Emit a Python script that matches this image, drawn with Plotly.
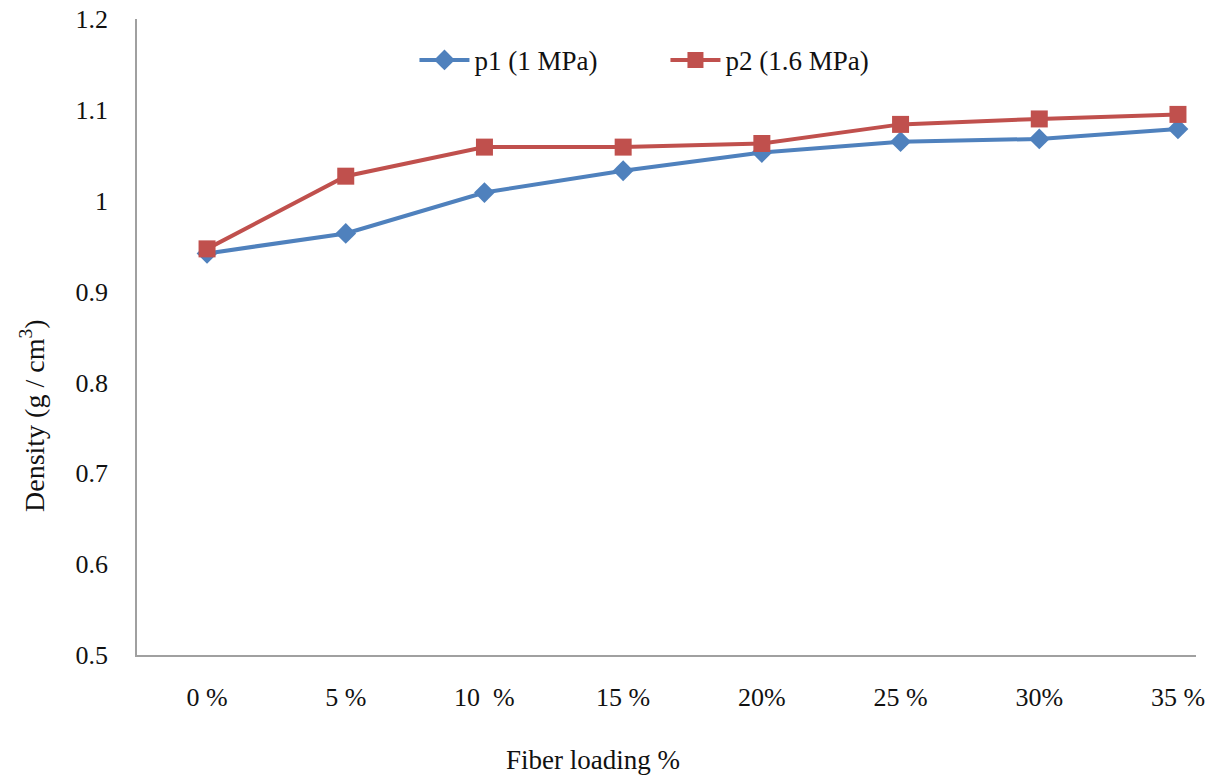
import plotly.graph_objects as go

# Fiber loading categories and measured densities (g/cm^3)
loading = ["0 %", "5 %", "10  %", "15 %", "20%", "25 %", "30%", "35 %"]
p1_density = [0.942, 0.964, 1.009, 1.033, 1.053, 1.065, 1.068, 1.079]
p2_density = [0.947, 1.027, 1.059, 1.059, 1.063, 1.084, 1.090, 1.095]
y_ticks = [0.5, 0.6, 0.7, 0.8, 0.9, 1.0, 1.1, 1.2]
y_ticktext = ["0.5", "0.6", "0.7", "0.8", "0.9", "1", "1.1", "1.2"]

BLUE = "#4F81BD"
RED = "#C0504D"
FONT = "'Liberation Serif', 'Times New Roman', 'DejaVu Serif', serif"

fig = go.Figure()
fig.add_trace(go.Scatter(
    x=list(range(len(loading))), y=p1_density, name="p1 (1 MPa)",
    mode="lines+markers",
    line=dict(color=BLUE, width=4),
    marker=dict(symbol="diamond", size=16, color=BLUE),
))
fig.add_trace(go.Scatter(
    x=list(range(len(loading))), y=p2_density, name="p2 (1.6 MPa)",
    mode="lines+markers",
    line=dict(color=RED, width=4),
    marker=dict(symbol="square", size=17, color=RED),
))

fig.update_layout(
    width=1226, height=778,
    margin=dict(l=137, r=30, t=19, b=123),
    paper_bgcolor="white", plot_bgcolor="white",
    font=dict(family=FONT, size=26, color="#111"),
    showlegend=True,
    legend=dict(
        orientation="h", x=0.262, y=0.935, xanchor="left", yanchor="middle",
        font=dict(family=FONT, size=27, color="#111"),
        bgcolor="rgba(0,0,0,0)", entrywidth=186, itemwidth=50,
    ),
    xaxis=dict(
        range=[-0.505, 7.13], automargin=False,
        tickmode="array", tickvals=list(range(len(loading))), ticktext=loading,
        showgrid=False, zeroline=False,
        showline=True, linecolor="#a0a0a0", linewidth=1.5,
        ticks="", ticklabelstandoff=18,
        tickfont=dict(family=FONT, size=26, color="#111"),
    ),
    yaxis=dict(
        range=[0.5, 1.2], automargin=False,
        tickmode="array", tickvals=y_ticks, ticktext=y_ticktext,
        showgrid=False, zeroline=False,
        showline=True, linecolor="#a0a0a0", linewidth=1.5,
        ticks="", ticklabelstandoff=22,
        tickfont=dict(family=FONT, size=26, color="#111"),
    ),
    annotations=[
        dict(text="Fiber loading %", xref="paper", yref="paper",
             x=(593 - 137) / 1059, y=-(760 - 655) / 636,
             xanchor="center", yanchor="middle", showarrow=False,
             font=dict(family=FONT, size=27, color="#111")),
        dict(text="Density (g / cm<sup>3</sup>)", xref="paper", yref="paper",
             x=-(137 - 32) / 1059, y=1 - (416 - 19) / 636, textangle=-90,
             xanchor="center", yanchor="middle", showarrow=False,
             font=dict(family=FONT, size=28, color="#111")),
    ],
)

fig.write_html("out.html")
